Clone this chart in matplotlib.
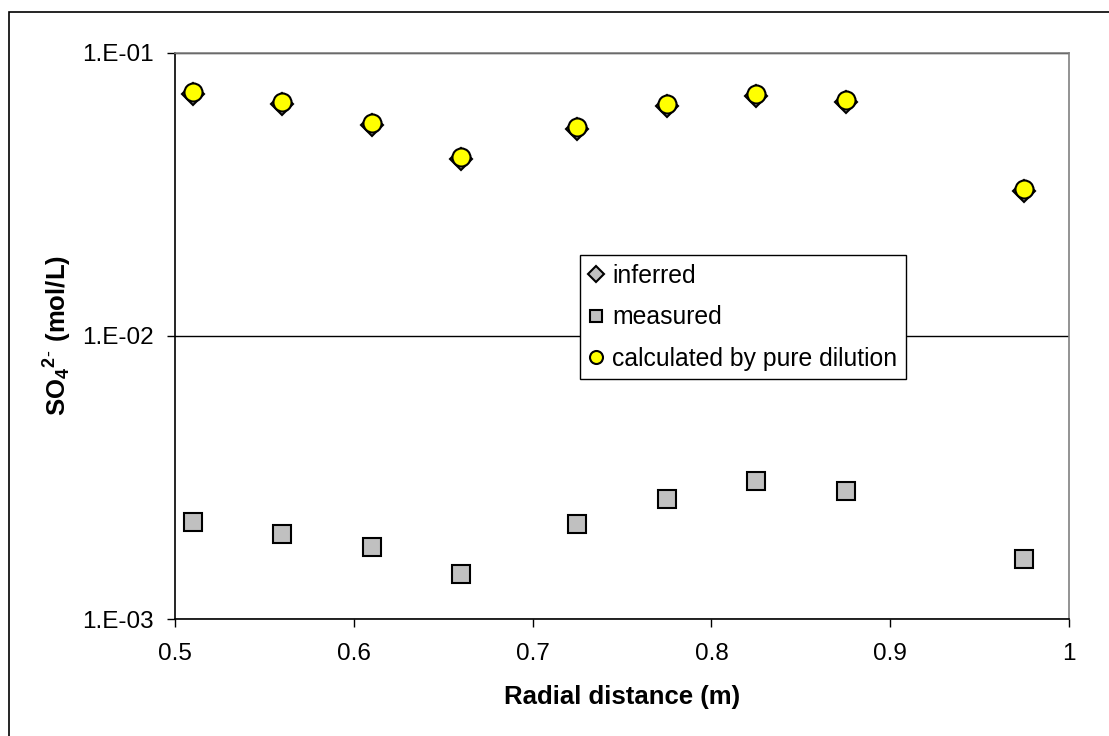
import matplotlib
matplotlib.use("Agg")
import matplotlib.pyplot as plt
import numpy as np
from matplotlib.ticker import FixedLocator, FuncFormatter, NullLocator
from matplotlib.patches import Rectangle

plt.rcParams["font.family"] = ["Liberation Sans", "DejaVu Sans"]
plt.rcParams["mathtext.fontset"] = "custom"
plt.rcParams["mathtext.rm"] = "Liberation Sans"
plt.rcParams["mathtext.bf"] = "Liberation Sans:bold"

# radial distance of the samples (m)
radial = [0.51, 0.56, 0.61, 0.66, 0.725, 0.775, 0.825, 0.875, 0.975]
# SO4 2- concentrations (mol/L)
inferred = [0.0715, 0.0659, 0.0555, 0.0422, 0.0537, 0.0650, 0.0703, 0.0671, 0.0325]
measured = [0.00220, 0.00200, 0.00180, 0.00144, 0.00217, 0.00265, 0.00306, 0.00283, 0.00163]
dilution = [0.0725, 0.0668, 0.0563, 0.0428, 0.0545, 0.0659, 0.0713, 0.0681, 0.0330]

x_ticks = [0.5, 0.6, 0.7, 0.8, 0.9, 1.0]
y_ticks = [1e-3, 1e-2, 1e-1]

W, H = 1109, 736
fig = plt.figure(figsize=(W / 100, H / 100), dpi=100)
ax = fig.add_axes([175 / W, 1 - 619 / H, (1069 - 175) / W, (619 - 52.7) / H])

# outer chart frame (only left/top edges fall inside the picture)
fig.patches.append(Rectangle((9 / W, -0.1), 1.2, 1 - 12 / H + 0.1, transform=fig.transFigure,
                             fill=False, edgecolor="black", linewidth=1.2))

ax.plot(radial, inferred, linestyle="none", marker="D", markersize=11,
        markerfacecolor="#c0c0c0", markeredgecolor="black", markeredgewidth=1.5,
        label="inferred", zorder=3)
ax.plot(radial, measured, linestyle="none", marker="s", markersize=12.5,
        markerfacecolor="#c0c0c0", markeredgecolor="black", markeredgewidth=1.5,
        label="measured", zorder=3)
ax.plot(radial, dilution, linestyle="none", marker="o", markersize=13,
        markerfacecolor="#ffff00", markeredgecolor="black", markeredgewidth=1.5,
        label="calculated by pure dilution", zorder=4)

ax.set_yscale("log")
ax.set_xlim(0.5, 1.0)
ax.set_ylim(1e-3, 1e-1)
ax.xaxis.set_major_locator(FixedLocator(x_ticks))
ax.xaxis.set_major_formatter(FuncFormatter(lambda v, p: f"{v:g}"))
ax.yaxis.set_major_locator(FixedLocator(y_ticks))
ax.yaxis.set_minor_locator(NullLocator())
ax.yaxis.set_major_formatter(FuncFormatter(lambda v, p: f"1.E-{int(round(-np.log10(v))):02d}"))

ax.set_axisbelow(True)
ax.yaxis.grid(True, color="black", linewidth=1.0)
for side in ("top", "right"):
    ax.spines[side].set_color("#808080")
    ax.spines[side].set_linewidth(1.2)
for side in ("left", "bottom"):
    ax.spines[side].set_color("black")
    ax.spines[side].set_linewidth(1.2)

ax.tick_params(axis="both", which="major", direction="out", length=6, width=1.0,
               labelsize=17.5, colors="black")
ax.tick_params(axis="x", pad=11)
ax.tick_params(axis="y", pad=9)

ax.set_xlabel("Radial distance (m)", fontsize=18.5, fontweight="bold", labelpad=15)
ax.set_ylabel(r"$\mathbf{SO_4{}^{2}}$" + r"$^{\text{-}}$" + r"$\mathbf{\ (mol/L)}$",
              fontsize=18.5, labelpad=6)

leg = ax.legend(loc="upper left", bbox_to_anchor=((580 - 175) / (1069 - 175), 1 - (255 - 52.7) / (619 - 52.7)),
                fontsize=17.8, frameon=True, fancybox=False, shadow=False, framealpha=1,
                edgecolor="black", borderaxespad=0, handlelength=0.6, handletextpad=0.35,
                labelspacing=0.7, borderpad=0.36, markerscale=0.72)
leg.get_frame().set_linewidth(1.0)

fig.savefig("out.png", dpi=100)
